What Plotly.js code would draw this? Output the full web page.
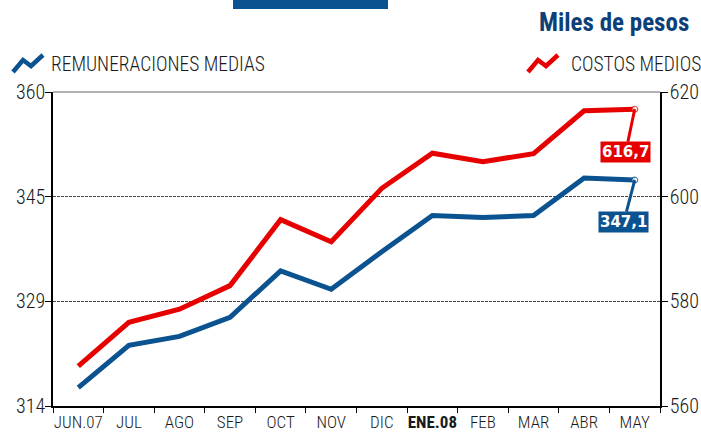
<!DOCTYPE html>
<html>
<head>
<meta charset="utf-8">
<script src="https://cdn.plot.ly/plotly-3.0.1.min.js"></script>
<style>
  body { margin: 0; background: #fff; }
  #chart { width: 701px; height: 439px; }
</style>
</head>
<body>
<div id="chart"></div>
<script>
// data
var months = ['JUN.07', 'JUL', 'AGO', 'SEP', 'OCT', 'NOV', 'DIC', 'ENE.08', 'FEB', 'MAR', 'ABR', 'MAY']
var remuneraciones = [316.7, 322.9, 324.2, 327.0, 333.8, 331.1, 336.6, 341.9, 341.6, 341.9, 347.4, 347.1]
var costos = [567.6, 576.0, 578.5, 583.0, 595.6, 591.4, 601.6, 608.3, 606.7, 608.2, 616.4, 616.7]

var leftTicks = [314, 329.333, 344.667, 360]
var leftTickText = ['314', '329', '345', '360']
var rightTicks = [560, 580, 600, 620]

var blue = '#0b5290'
var red = '#e60000'
var narrow = 'Roboto Condensed, Roboto, sans-serif'

// plot area in pixels, used to place the decorations around it
var L = 53, R = 660, T = 92, B = 406
function px(x) { return (x - L) / (R - L) }
function py(y) { return (B - y) / (B - T) }

function zigzag(x0, y0) {
    var pts = [[0, 16], [10, 4], [18, 10], [30, -1]]
    return pts.map(function (p, i) {
        return (i ? 'L ' : 'M ') + px(x0 + p[0]) + ',' + py(y0 + p[1])
    }).join(' ')
}

// ticks labels: bold for the new year
var tickText = months.map(function (m) { return m == 'ENE.08' ? '<b>' + m + '</b>' : m })

// only the last point gets a marker
var endSizes = months.map(function (m, i) { return i == months.length - 1 ? 6 : 0 })

function fmt(v) { return v.toFixed(1).replace('.', ',') }

var trace1 = {
    x: months,
    y: remuneraciones,
    type: 'scatter',
    mode: 'lines+markers',
    name: 'REMUNERACIONES MEDIAS',
    line: { color: blue, width: 5 },
    marker: { size: endSizes, color: 'white', line: { color: blue, width: 1.2 } },
    yaxis: 'y',
    showlegend: false
}

var trace2 = {
    x: months,
    y: costos,
    type: 'scatter',
    mode: 'lines+markers',
    name: 'COSTOS MEDIOS',
    line: { color: red, width: 5 },
    marker: { size: endSizes, color: 'white', line: { color: red, width: 1.2 } },
    yaxis: 'y2',
    showlegend: false
}

var last = months.length - 1
var tickFont = { size: 20, family: narrow, color: '#1a1a1a', weight: 300 }

var layout = {
    width: 701,
    height: 439,
    margin: { l: L, r: 701 - R, t: T, b: 439 - B },
    paper_bgcolor: 'white',
    plot_bgcolor: 'white',
    font: { family: narrow, color: '#1a1a1a' },
    xaxis: {
        type: 'category',
        range: [-0.5, 11.5],
        tickvals: months,
        ticktext: tickText,
        tickson: 'boundaries',
        ticks: 'outside',
        ticklen: 5,
        tickcolor: '#000',
        tickangle: 0,
        showline: true,
        linecolor: '#000',
        linewidth: 1.5,
        showgrid: false,
        tickfont: { size: 17, family: narrow, color: '#1a1a1a', weight: 300 },
        fixedrange: true
    },
    yaxis: {
        range: [314, 360],
        tickvals: leftTicks,
        ticktext: leftTickText,
        ticks: 'outside',
        ticklen: 6,
        tickcolor: '#000',
        ticklabelstandoff: -4,
        showline: true,
        linecolor: '#000',
        linewidth: 1.5,
        showgrid: true,
        gridcolor: '#444',
        griddash: '3px,1px',
        gridwidth: 1,
        zeroline: false,
        tickfont: tickFont,
        fixedrange: true
    },
    yaxis2: {
        range: [560, 620],
        tickvals: rightTicks,
        overlaying: 'y',
        side: 'right',
        ticks: 'outside',
        ticklen: 6,
        tickcolor: '#000',
        ticklabelstandoff: -2,
        showline: true,
        linecolor: '#000',
        linewidth: 1.5,
        showgrid: false,
        zeroline: false,
        tickfont: tickFont,
        fixedrange: true
    },
    shapes: [
        // gray line on top of the plot
        { type: 'line', xref: 'paper', yref: 'paper', x0: 0, x1: 1, y0: 1, y1: 1,
          line: { color: '#999', width: 1.5 } },
        // blue bar cut off at the top
        { type: 'rect', xref: 'paper', yref: 'paper', x0: px(233), x1: px(388), y0: py(9), y1: py(-5),
          fillcolor: blue, line: { width: 0 } },
        // legend icons
        { type: 'path', xref: 'paper', yref: 'paper', path: zigzag(13, 56),
          line: { color: blue, width: 4.5 } },
        { type: 'path', xref: 'paper', yref: 'paper', path: zigzag(528, 56),
          line: { color: red, width: 4.5 } }
    ],
    annotations: [
        { xref: 'paper', yref: 'paper', x: px(691), y: py(23), xanchor: 'right', yanchor: 'middle',
          text: '<b>Miles de pesos</b>', showarrow: false,
          font: { family: narrow, size: 25, color: '#0d3f78' } },
        { xref: 'paper', yref: 'paper', x: px(49), y: py(64), xanchor: 'left', yanchor: 'middle',
          text: 'REMUNERACIONES MEDIAS', showarrow: false,
          font: { family: narrow, size: 19.5, color: '#1a1a1a', weight: 300 } },
        { xref: 'paper', yref: 'paper', x: px(569), y: py(64), xanchor: 'left', yanchor: 'middle',
          text: 'COSTOS MEDIOS', showarrow: false,
          font: { family: narrow, size: 19.5, color: '#1a1a1a', weight: 300 } },
        // value labels for the last month
        { x: months[last], y: costos[last], xref: 'x', yref: 'y2',
          text: '<b>' + fmt(costos[last]) + '</b>', showarrow: true, arrowhead: 0,
          arrowwidth: 3, arrowcolor: red, ax: -9, ay: 43, bgcolor: red, borderpad: 1,
          font: { family: 'DejaVu Sans', size: 15, color: 'white' } },
        { x: months[last], y: remuneraciones[last], xref: 'x', yref: 'y',
          text: '<b>' + fmt(remuneraciones[last]) + '</b>', showarrow: true, arrowhead: 0,
          arrowwidth: 3, arrowcolor: blue, ax: -11, ay: 42, bgcolor: blue, borderpad: 1,
          font: { family: 'DejaVu Sans', size: 15, color: 'white' } }
    ]
}

var config = { displayModeBar: false, responsive: false }

Plotly.newPlot('chart', [trace1, trace2], layout, config)
</script>
</body>
</html>
